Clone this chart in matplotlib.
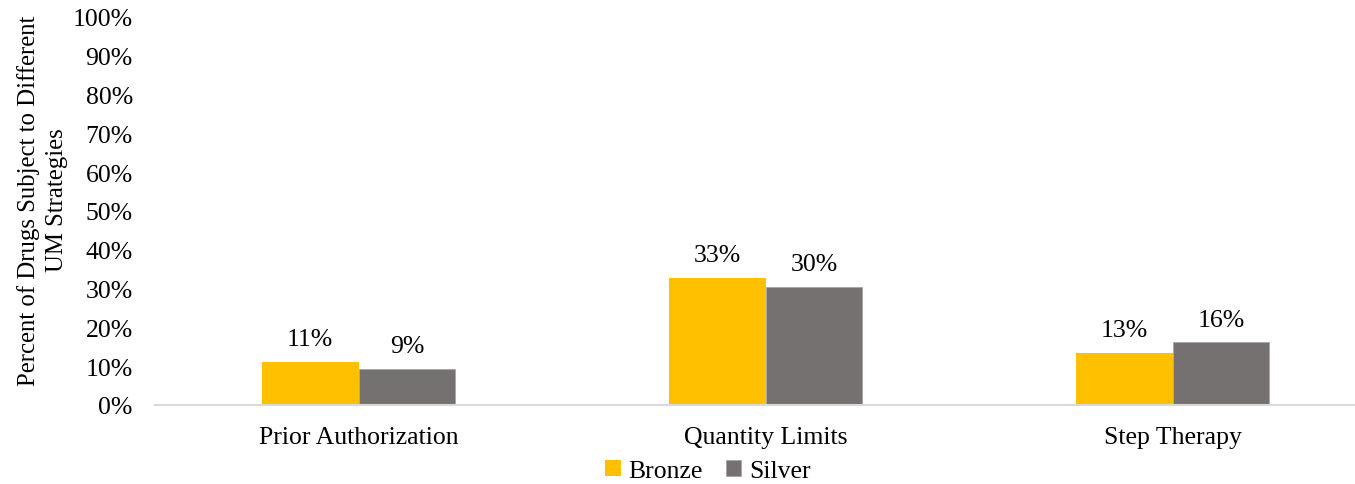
import matplotlib
matplotlib.use("Agg")
import matplotlib.pyplot as plt
import numpy as np

# data
categories = ["Prior Authorization", "Quantity Limits", "Step Therapy"]
bronze = [11.1, 32.7, 13.4]
silver = [9.3, 30.4, 16.2]
series_names = ["Bronze", "Silver"]
colors = ["#FFC000", "#767171"]

plt.rcParams['font.family'] = ['Liberation Serif', 'DejaVu Serif']
fs = 18.5

fig = plt.figure(figsize=(13.55, 4.85), dpi=100)
W, H = 1355, 485
ax = fig.add_axes([155 / W, (H - 406) / H, 1221 / W, 388 / H])

x = np.arange(len(categories))
bw = 0.238
b1 = ax.bar(x - bw / 2, bronze, bw, color=colors[0], label=series_names[0])
b2 = ax.bar(x + bw / 2, silver, bw, color=colors[1], label=series_names[1],
            edgecolor="#a6a6a6", linewidth=0.6)

# value labels above bars
for bars, vals in ((b1, bronze), (b2, silver)):
    for rect, v in zip(bars, vals):
        ax.text(rect.get_x() + rect.get_width() / 2, v + 3.0, "%d%%" % round(v),
                ha="center", va="bottom", fontsize=fs, color="#000000")

ax.set_xlim(-0.5, 2.5)
ax.set_ylim(0, 100)
ax.set_yticks(np.arange(0, 101, 10))
ax.set_yticklabels(["%d%%" % t for t in range(0, 101, 10)])
ax.set_xticks(x)
ax.set_xticklabels(categories)
ax.tick_params(axis="both", length=0, labelsize=fs)
ax.tick_params(axis="x", pad=15)
ax.tick_params(axis="y", pad=16)
for s in ["top", "right", "left"]:
    ax.spines[s].set_visible(False)
ax.spines["bottom"].set_color("#d9d9d9")
ax.spines["bottom"].set_linewidth(1.5)

ax.set_ylabel("Percent of Drugs Subject to Different\nUM Strategies", fontsize=17.8,
              linespacing=1.4)
ax.yaxis.set_label_coords(-0.071, 0.53)

fig.legend(loc="center", bbox_to_anchor=(708 / W, 1 - 472 / H), ncol=2, frameon=False,
           fontsize=fs, handlelength=0.6, handleheight=0.6, handletextpad=0.3,
           columnspacing=0.9)

fig.savefig("out.png", dpi=100)
